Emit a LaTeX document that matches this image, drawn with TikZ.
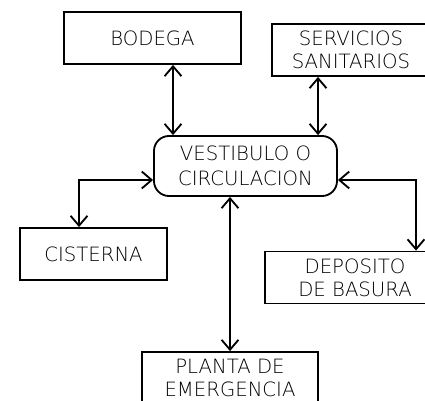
\documentclass[tikz,border=0pt]{standalone}
\usepackage{fontspec}
\newfontfamily\cadfont{DejaVu Sans ExtraLight}
\usepackage{tikz}
\usetikzlibrary{arrows.meta, calc}

\begin{document}
\begin{tikzpicture}[x=0.025cm, y=-0.025cm, >={Straight Barb[length=7pt, width=12pt]},
  caja/.style={draw, line width=1.3pt, align=center, minimum height=1.3cm,
    font=\cadfont\fontsize{14}{16.3}\selectfont},
  flecha/.style={<->, line width=1.3pt}]

  \useasboundingbox (0,0) rectangle (425,400);
  \clip (0,0) rectangle (425,400);

  % Cajas
  \node[caja, minimum width=4.425cm] (bod) at (152.5,38) {BODEGA};
  \node[caja, minimum width=3.95cm]  (ser) at (351,50)   {SERVICIOS\\SANITARIOS};
  \node[caja, minimum width=4.575cm, minimum height=1.5cm, rounded corners=0.375cm,
        font=\cadfont\fontsize{14}{17.7}\selectfont] (vest) at (245.5,166) {VESTIBULO O\\CIRCULACION};
  \node[caja, minimum width=3.675cm] (cis) at (93.5,254)  {CISTERNA};
  \node[caja, minimum width=4.5cm]   (dep) at (355,277.5) {DEPOSITO\\DE BASURA};
  \node[caja, minimum width=4.4cm]   (pla) at (230,378)   {PLANTA DE\\EMERGENCIA};

  % Conexiones
  \coordinate (bodsal) at ($(bod.south)+(20.5,0)$);
  \coordinate (sersal) at ($(ser.south)+(-33,0)$);
  \draw[flecha] (bodsal) -- (bodsal |- vest.north);
  \draw[flecha] (sersal) -- (sersal |- vest.north);
  \draw[flecha] ($(vest.west)+(0,14)$) -| ($(cis.north)+(-14.5,0)$);
  \draw[flecha] ($(vest.east)+(0,14)$) -| ($(dep.north)+(61,0)$);
  \draw[flecha] (pla.north) -- (pla.north |- vest.south);

\end{tikzpicture}
\end{document}
